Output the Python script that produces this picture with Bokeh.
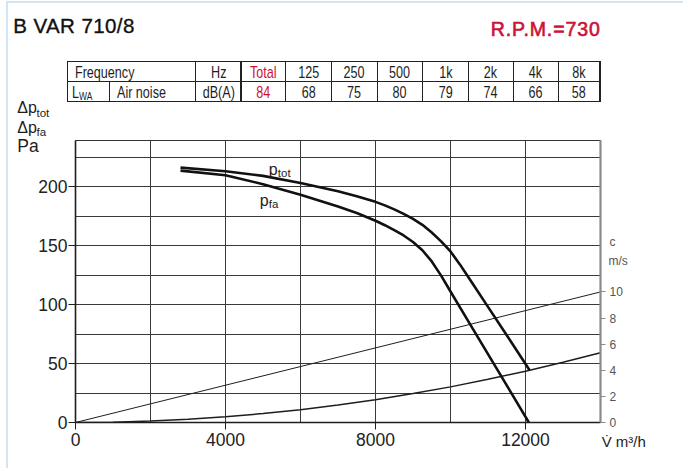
from bokeh.plotting import figure
from bokeh.models import Range1d, LinearAxis, FixedTicker, Label, Div
from bokeh.layouts import column
from bokeh.embed import file_html
from bokeh.resources import INLINE

# ---------------- data ----------------
MODEL = "B VAR 710/8"
RPM = 730
BANDS = ["125", "250", "500", "1k", "2k", "4k", "8k"]
LWA_BANDS = [68, 75, 80, 79, 74, 66, 58]
LWA_TOTAL = 84

# total pressure curve (m3/h, Pa)
Q_TOT = [2800, 4000, 5000, 6000, 7000, 7500, 8000, 8250, 8500, 8750, 9000, 9250, 9500, 9750,
         10000, 10250, 10500, 11000, 11500, 12110]
P_TOT = [216, 213, 209, 203, 196, 191.8, 187, 184, 180.6, 176.8, 172.5, 167.5, 161, 153.5,
         145, 134, 122, 98, 74, 44.3]

# static (free-air) pressure curve (m3/h, Pa)
Q_FA = [2800, 4000, 5000, 6000, 7000, 7500, 8000, 8250, 8500, 8750, 9000, 9250, 9500, 9750,
        10000, 10500, 11000, 11500, 12090]
P_FA = [213.5, 209.5, 202, 193, 183, 177.5, 171, 167.2, 163, 158.5, 153, 146, 136.5, 124.5,
        111, 84.5, 58, 31.5, 0]

# dynamic pressure curve (m3/h, Pa)
Q_DYN = [0, 1000, 2000, 3000, 4000, 5000, 6000, 7000, 8000, 9000, 10000, 11000, 12000, 13000, 14000]
P_DYN = [0, 0.3, 1.2, 2.7, 4.8, 7.6, 10.9, 14.8, 19.3, 24.5, 30.2, 36.6, 43.5, 51.1, 59.2]

# outlet velocity line (m3/h, m/s)
Q_C = [0, 14000]
C_VEL = [0, 10]

X_TICKS = [0, 4000, 8000, 12000]
X_GRID = [2000, 4000, 6000, 8000, 10000, 12000]
Y_TICKS = [0, 50, 100, 150, 200]
Y_GRID = [25, 50, 75, 100, 125, 150, 175, 200, 225]
C_TICKS = [0, 2, 4, 6, 8, 10]

RED = "#cc1236"
INK = "#1e1e1e"
W, H = 683, 468

# ---------------- chart ----------------
p = figure(width=W, height=H - 1, x_range=Range1d(0, 14000), y_range=Range1d(0, 239),
           min_border_left=75, min_border_right=83, min_border_top=139, min_border_bottom=46,
           toolbar_location=None, output_backend="svg",
           outline_line_color="#333333", outline_line_width=1)
p.extra_y_ranges = {"c": Range1d(0, 21.6)}

p.xaxis.ticker = FixedTicker(ticks=X_TICKS)
p.yaxis.ticker = FixedTicker(ticks=Y_TICKS)
for ax in (p.xaxis[0], p.yaxis[0]):
    ax.axis_line_color = INK
    ax.axis_line_width = 1.6
    ax.major_tick_line_color = INK
    ax.major_tick_in = 0
    ax.major_tick_out = 7
    ax.minor_tick_out = 0
    ax.minor_tick_in = 0
    ax.major_label_text_font = "Liberation Sans"
    ax.major_label_text_font_size = "17.5px"
    ax.major_label_text_color = "#222222"
p.xaxis.major_label_standoff = 3
p.yaxis.major_label_standoff = 1

p.xgrid.ticker = FixedTicker(ticks=X_GRID)
p.ygrid.ticker = FixedTicker(ticks=Y_GRID)
p.grid.grid_line_color = "#3a3a3a"
p.grid.grid_line_width = 1

cax = LinearAxis(y_range_name="c", ticker=FixedTicker(ticks=C_TICKS),
                 axis_line_color="#8a8a8a", axis_line_width=2.2,
                 major_tick_line_color="#8a8a8a", major_tick_in=0, major_tick_out=5,
                 minor_tick_in=0, minor_tick_out=0, major_label_standoff=4,
                 major_label_text_font="Liberation Sans", major_label_text_font_size="12px",
                 major_label_text_color="#555555")
p.add_layout(cax, "right")

p.line(Q_C, C_VEL, y_range_name="c", line_color=INK, line_width=1)
p.line(Q_DYN, P_DYN, line_color=INK, line_width=1.5)
p.line(Q_TOT, P_TOT, line_color="#111111", line_width=2.6, line_join="round")
p.line(Q_FA, P_FA, line_color="#111111", line_width=2.6, line_join="round")


def px(xp):  # page x -> data
    return (xp - 75) / 0.0375


def py(yp):  # page y -> data
    return (422 - yp) / 1.18


def lab(xp, yp, txt, size):
    p.add_layout(Label(x=px(xp), y=py(yp), text=txt, text_font="Liberation Sans",
                       text_font_size=size, text_color=INK, text_baseline="alphabetic",
                       text_align="left"))


lab(268.3, 169, "p", "16px")
lab(277.3, 172.5, "tot", "11.5px")
lab(259.3, 199.5, "p", "16px")
lab(268.3, 203, "fa", "11.5px")

# ---------------- texts outside the plot frame (HTML overlay) ----------------
parts = []


def span(text, x, base, size, color=INK, weight="normal", sx=1.0, align="left",
         width=0, spacing=0, stroke=0):
    top = base - 0.8465 * size
    st = (f"position:absolute;top:{top:.2f}px;font-family:'Liberation Sans',Arial,sans-serif;"
          f"font-size:{size}px;line-height:{size}px;color:{color};font-weight:{weight};"
          f"white-space:nowrap;letter-spacing:{spacing}px;")
    if stroke:
        st += f"-webkit-text-stroke:{stroke}px {color};"
    if align == "left":
        st += f"left:{x}px;"
        origin = "left"
    elif align == "center":
        st += f"left:{x - width / 2:.2f}px;width:{width:.2f}px;text-align:center;"
        origin = "center"
    else:
        st += f"right:{W - x:.2f}px;text-align:right;"
        origin = "right"
    if sx != 1.0:
        st += f"transform:scaleX({sx});transform-origin:{origin} center;"
    parts.append(f'<div style="{st}">{text}</div>')


def rect(x, y, w, h, color):
    parts.append(f'<div style="position:absolute;left:{x:.2f}px;top:{y:.2f}px;'
                 f'width:{w:.2f}px;height:{h:.2f}px;background:{color};"></div>')


# light blue card border
rect(6, 1, W - 6, 2, "#d3e4f2")
rect(6, 1, 2, H - 1, "#d3e4f2")

span(MODEL, 13.3, 33.3, 20.5, color="#111111", spacing=0.4, stroke=0.35)
span(f"R.P.M.={RPM}", 600.7, 36.7, 19.5, color=RED, align="right", spacing=0.9, stroke=0.6)

# noise table
cols = [67.7, 195.5, 241, 285.7, 331.3, 377.4, 422.6, 468.3, 513.3, 558.3, 600]
top, mid, bot = 61.7, 81.7, 101.5
lw = 1.2
for yy in (top, mid, bot):
    rect(cols[0] - lw / 2, yy - lw / 2, cols[-1] - cols[0] + lw, lw, "#222222")
for xx in cols:
    rect(xx - lw / 2, top - lw / 2, lw, bot - top + lw, "#222222")
rect(109.3 - lw / 2, mid, lw, bot - mid, "#222222")

SX = 0.74
row1 = ["Hz", "Total"] + BANDS
row2 = ["dB(A)", str(LWA_TOTAL)] + [str(v) for v in LWA_BANDS]
tcolors = [INK, RED] + [INK] * len(BANDS)
for i in range(len(row1)):
    cx = (cols[i + 1] + cols[i + 2]) / 2
    cw = cols[i + 2] - cols[i + 1]
    span(row1[i], cx, 78.4, 17, color=tcolors[i], sx=SX, align="center", width=cw)
    span(row2[i], cx, 97.9, 17, color=tcolors[i], sx=SX, align="center", width=cw)
span("Frequency", 74.5, 78.4, 17, sx=SX)
span("Air noise", 116.5, 97.9, 17, sx=SX)
span("L", 71.7, 97.9, 17, sx=SX)
span("WA", 78.6, 100.3, 11.5, sx=SX)

# pressure axis caption
span("\u0394p", 17.3, 114, 16)
span("tot", 36.5, 117.5, 11.5)
span("\u0394p", 17.3, 133.3, 16)
span("fa", 36.5, 137, 11.5)
span("Pa", 17.3, 152.7, 17.5)

# velocity axis caption
span("c", 609.5, 246, 12, color="#555555")
span("m/s", 608.5, 265, 12, color="#555555")

# flow axis caption
span("V\u0307 m\u00b3/h", 601.7, 446.7, 15)

html = (f'<div style="position:relative;z-index:50;width:{W}px;height:{H}px;'
        f'pointer-events:none;">' + "".join(parts) + "</div>")
ovl = Div(text=html, width=W, height=1, margin=(0, 0, 0, 0))

layout = column(ovl, p, spacing=0)
open("out.html", "w").write(file_html(layout, INLINE))
